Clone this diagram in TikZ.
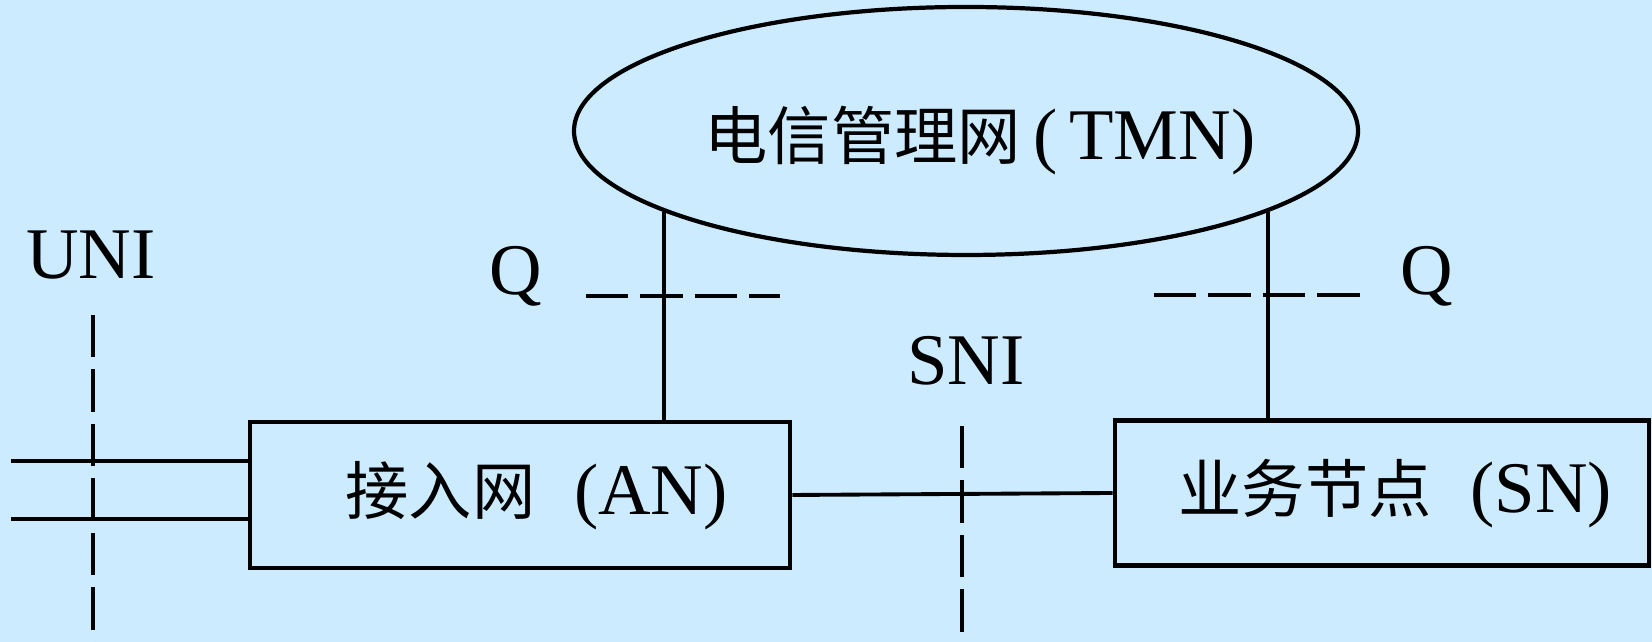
\documentclass[tikz,border=0pt]{standalone}
\usepackage{fontspec}
\setmainfont{Liberation Serif}[Scale=1.15]
\newfontfamily\cjk{Noto Sans CJK SC}
\usetikzlibrary{shapes.geometric,positioning}
\definecolor{bgblue}{RGB}{204,235,255}

\begin{document}
\begin{tikzpicture}[
  box/.style={draw,line width=1.3pt,minimum width=5.4cm,minimum height=1.46cm,inner sep=0pt},
  link/.style={line width=1.1pt},
  iface/.style={line width=1.1pt,dash pattern=on 12pt off 3.5pt},
  lbl/.style={anchor=base,inner sep=0pt},
  txt/.style={anchor=base west,inner sep=0pt},
  font=\fontsize{18}{22}\selectfont]
  \fill[bgblue] (0,0) rectangle (16.52,6.42);
  \useasboundingbox (0,0) rectangle (16.52,6.42);
  \node[draw,ellipse,line width=1.2pt,minimum width=7.84cm,minimum height=2.48cm] (TMN) at (9.66,5.11) {};
  \node[txt] (TMNtext) at (7.04,4.82) {{\cjk 电信管理网}\,(\,TMN)};
  \node[box] (AN) at (5.20,1.47) {};
  \node[txt] (ANtext) at (3.45,1.27) {{\cjk 接入网}\hspace{11pt}(AN)};
  \node[box,minimum width=5.34cm,minimum height=1.45cm] (SN) at (13.82,1.49) {};
  \node[txt] (SNtext) at (11.78,1.29) {{\cjk 业务节点}\hspace{11pt}(SN)};
  \draw[link] (AN.east) -- (SN.west);
  \draw[link] (TMN.195) -- (TMN.195 |- AN.north);
  \draw[link] (TMN.345) -- (TMN.345 |- SN.north);
  \coordinate (U1) at (0.11,1.81);
  \coordinate (U2) at (0.11,1.23);
  \draw[line width=1.3pt] (U1) -- (U1 -| AN.west);
  \draw[line width=1.3pt] (U2) -- (U2 -| AN.west);
  \coordinate (UNItop) at (0.93,3.27);
  \coordinate (UNIbot) at (0.93,0);
  \draw[iface] (UNItop) -- (UNIbot);
  \node[lbl] (UNI) at (0.91,3.63) {UNI};
  \coordinate (SNItop) at (9.62,2.16);
  \coordinate (SNIbot) at (9.62,0);
  \draw[iface] (SNItop) -- (SNIbot);
  \node[lbl] (SNI) at (9.66,2.57) {SNI};
  \coordinate (QLa) at (5.86,3.46);
  \coordinate (QLb) at (7.80,3.46);
  \draw[iface] (QLa) -- (QLb);
  \node[lbl] (QL) at (5.16,3.47) {Q};
  \coordinate (QRa) at (11.54,3.47);
  \coordinate (QRb) at (13.70,3.47);
  \draw[iface] (QRa) -- (QRb);
  \node[lbl] (QR) at (14.27,3.47) {Q};
\end{tikzpicture}
\end{document}
